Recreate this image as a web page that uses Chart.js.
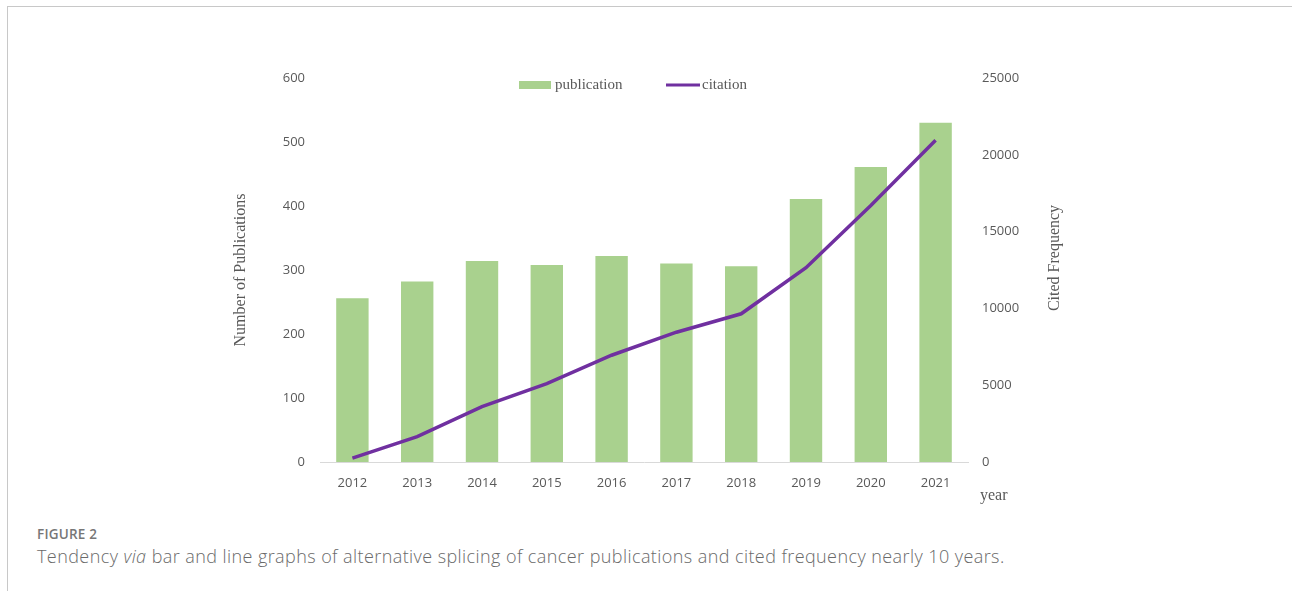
<!DOCTYPE html>
<html>
<head>
<meta charset="utf-8">
<script src="https://cdn.jsdelivr.net/npm/chart.js@4.4.1/dist/chart.umd.min.js"></script>
<style>
  body { margin: 0; background: #fff; width: 1292px; height: 591px; overflow: hidden; position: relative; }
  #frame { position: absolute; left: 7px; top: 6px; width: 1290px; height: 600px; border: 1px solid #c8c8c8; box-sizing: border-box; }
  #wrap { position: absolute; left: 0; top: 0; width: 1292px; height: 520px; }
  #figno { position: absolute; left: 37px; top: 525px; font-family: 'Open Sans', sans-serif; font-size: 13.5px; font-weight: 600; color: #777; letter-spacing: 0.2px; }
  #caption { position: absolute; left: 37px; top: 544px; font-family: 'Open Sans', sans-serif; font-size: 18px; color: #6a6a6a; font-weight: 300; letter-spacing: 0.42px; white-space: nowrap; }
</style>
</head>
<body>
<div id="frame"></div>
<div id="wrap"><canvas id="chart"></canvas></div>
<div id="figno">FIGURE 2</div>
<div id="caption">Tendency <i>via</i> bar and line graphs of alternative splicing of cancer publications and cited frequency nearly 10 years.</div>
<script>
// chart data
var years = ['2012', '2013', '2014', '2015', '2016', '2017', '2018', '2019', '2020', '2021'];
var publications = [256, 282, 314, 308, 322, 310, 306, 411, 461, 530];
var citations = [250, 1650, 3600, 5100, 6950, 8450, 9650, 12650, 16700, 20950];

var tickFont = { family: "'Open Sans', sans-serif", size: 13 };
var serif = "'Liberation Serif', 'Times New Roman', serif";
var grey = '#595959';

// legend, right title and "year" drawn by hand (positions differ from Chart.js defaults)
var extras = {
    id: 'extras',
    afterDraw: function (chart) {
        var ctx = chart.ctx;
        var area = chart.chartArea;
        var ds = chart.data.datasets;
        var bar = ds.find(function (d) { return d.type === 'bar'; });
        var line = ds.find(function (d) { return d.type === 'line'; });
        ctx.save();
        ctx.font = '15px ' + serif;
        ctx.textBaseline = 'middle';
        var y = area.top + 7;
        var x = area.left + 199;
        ctx.fillStyle = bar.backgroundColor;
        ctx.fillRect(x, y - 4, 32, 8);
        ctx.fillStyle = grey;
        ctx.fillText(bar.label, x + 36, y);
        x = area.left + 346;
        ctx.strokeStyle = line.borderColor;
        ctx.lineWidth = 3;
        ctx.beginPath();
        ctx.moveTo(x, y);
        ctx.lineTo(x + 34, y);
        ctx.stroke();
        ctx.fillText(line.label, x + 36, y);

        var right = chart.scales.y1;
        ctx.font = '16px ' + serif;
        ctx.translate(right.left + 87, (area.top + area.bottom) / 2 - 12);
        ctx.rotate(-Math.PI / 2);
        ctx.textAlign = 'center';
        ctx.fillText('Cited Frequency', 0, 0);
        ctx.restore();

        ctx.save();
        ctx.font = '16px ' + serif;
        ctx.fillStyle = grey;
        ctx.textBaseline = 'middle';
        ctx.fillText('year', right.left + 12, area.bottom + 34);
        ctx.restore();
    }
};

var ctx = document.getElementById('chart').getContext('2d');
var chart = new Chart(ctx, {
    data: {
        labels: years,
        datasets: [{
            type: 'line',
            label: 'citation',
            data: citations,
            yAxisID: 'y1',
            borderColor: '#7030a0',
            backgroundColor: '#7030a0',
            borderWidth: 3.5,
            pointRadius: 0,
            tension: 0,
            order: 0
        }, {
            type: 'bar',
            label: 'publication',
            data: publications,
            yAxisID: 'y',
            backgroundColor: '#a9d18e',
            barPercentage: 0.5,
            categoryPercentage: 1,
            order: 1
        }]
    },
    options: {
        responsive: true,
        maintainAspectRatio: false,
        animation: false,
        layout: { padding: { left: 225, right: 214, top: 78, bottom: 0 } },
        plugins: {
            legend: { display: false },
            tooltip: { enabled: false }
        },
        scales: {
            x: {
                grid: { display: false, drawTicks: false },
                border: { color: '#d9d9d9', width: 1 },
                ticks: { font: tickFont, color: grey, padding: 13, maxRotation: 0 },
                afterFit: function (s) { s.height = 58; }
            },
            y: {
                position: 'left',
                min: 0, max: 600,
                grid: { display: false, drawTicks: false },
                border: { display: false },
                ticks: { stepSize: 100, font: tickFont, color: grey, padding: 15 },
                title: { display: true, text: 'Number of Publications', font: { family: serif, size: 16 }, color: grey, padding: { top: 6, bottom: 0 } },
                afterFit: function (s) { s.width = 95; }
            },
            y1: {
                position: 'right',
                min: 0, max: 25000,
                grid: { display: false, drawTicks: false },
                border: { display: false },
                ticks: {
                    stepSize: 5000, font: tickFont, color: grey, padding: 14,
                    callback: function (v) { return String(v); }
                },
                afterFit: function (s) { s.width = 110; }
            }
        }
    },
    plugins: [extras]
});
</script>
</body>
</html>
